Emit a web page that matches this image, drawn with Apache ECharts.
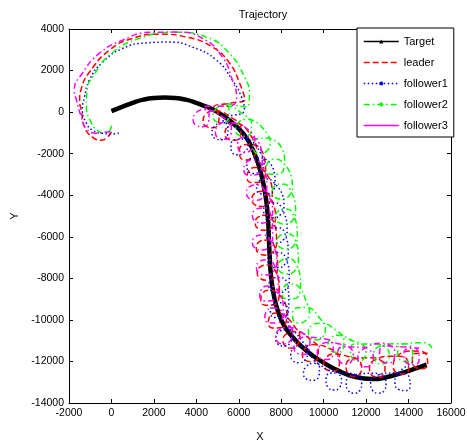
<!DOCTYPE html>
<html>
<head>
<meta charset="utf-8">
<script src="https://cdn.jsdelivr.net/npm/echarts@6/dist/echarts.min.js"></script>
<style>html,body{margin:0;padding:0;background:#fff;}#c{width:467px;height:441px;}</style>
</head>
<body>
<div id="c"></div>
<script>
// ---- data (data units) ----
const xTicks = [-2000, 0, 2000, 4000, 6000, 8000, 10000, 12000, 14000, 16000];
const yTicks = [-14000, -12000, -10000, -8000, -6000, -4000, -2000, 0, 2000, 4000];
const seriesNames = ['Target', 'leader', 'follower1', 'follower2', 'follower3'];

const target = [[0,50],[500,250],[1000,450],[1500,600],[2000,680],[2500,700],[3000,680],[3500,600],[4000,450],[4500,250],[5000,0],[5500,-350],[6000,-800],[6400,-1300],[6700,-1900],[6950,-2600],[7150,-3400],[7300,-4300],[7380,-5200],[7420,-6100],[7460,-7000],[7520,-7900],[7650,-8800],[7850,-9600],[8150,-10300],[8600,-10900],[9200,-11500],[9900,-12000],[10700,-12450],[11500,-12750],[12300,-12850],[13000,-12750],[13700,-12550],[14300,-12350],[14850,-12150]];

const leader = [[0,-950],[-190,-1200],[-470,-1350],[-900,-1200],[-1270,-720],[-1420,100],[-1500,500],[-1400,1200],[-1040,1920],[-100,2980],[1000,3550],[2260,3750],[3540,3610],[4760,3130],[5570,2350],[6040,1390],[6280,580],[5700,450],
[4820,220],[5070,-120],[5050,-510],[4790,-750],[4480,-700],[4320,-430],[4440,-100],[4790,70],
[5850,-390],[6100,-730],[6080,-1120],[5820,-1360],[5510,-1310],[5350,-1040],[5470,-710],[5820,-540],
[6740,-1420],[6840,-1830],[6660,-2180],[6330,-2300],[6060,-2140],[6030,-1820],[6270,-1570],[6660,-1550],
[7260,-2680],[7230,-3100],[6950,-3380],[6600,-3390],[6390,-3150],[6460,-2840],[6760,-2670],[7140,-2780],
[7580,-3950],[7440,-4350],[7100,-4540],[6760,-4460],[6620,-4180],[6760,-3900],[7100,-3810],[7440,-4010],
[7730,-5100],[7590,-5500],[7250,-5690],[6910,-5610],[6770,-5330],[6910,-5050],[7250,-4960],[7590,-5160],
[7780,-6300],[7640,-6700],[7300,-6890],[6960,-6810],[6820,-6530],[6960,-6250],[7300,-6160],[7640,-6360],
[7830,-7500],[7690,-7900],[7350,-8090],[7010,-8010],[6870,-7730],[7010,-7450],[7350,-7360],[7690,-7560],
[7910,-8580],[7880,-9000],[7600,-9280],[7250,-9290],[7040,-9050],[7110,-8740],[7410,-8570],[7790,-8680],
[8260,-9680],[8230,-10100],[7950,-10380],[7600,-10390],[7390,-10150],[7460,-9840],[7760,-9670],[8140,-9780],
[8700,-10420],[8880,-10800],[8780,-11180],[8480,-11360],[8180,-11260],[8080,-10960],[8260,-10660],[8640,-10560],
[9500,-11040],[9750,-11380],[9730,-11770],[9470,-12010],[9160,-11960],[9000,-11690],[9120,-11360],[9470,-11190],
[10500,-11490],[10750,-11830],[10730,-12220],[10470,-12460],[10160,-12410],[10000,-12140],[10120,-11810],[10470,-11640],
[11200,-11770],[11600,-11910],[11790,-12250],[11710,-12590],[11430,-12730],[11150,-12590],[11060,-12250],[11260,-11910],
[12300,-11820],[12700,-11960],[12890,-12300],[12810,-12640],[12530,-12780],[12250,-12640],[12160,-12300],[12360,-11960],
[13260,-11750],[13680,-11760],[13970,-12030],[14000,-12380],[13780,-12600],[13460,-12550],[13280,-12260],[13360,-11870],
[14160,-11500],[14580,-11510],[14870,-11780],[14900,-12130],[14680,-12350],[14360,-12300],[14180,-12010],[14260,-11620],
[14900,-11600]];

const follower1 = [[350,-1000],[50,-1050],[-420,-1020],[-900,-870],[-1180,-530],[-1370,100],[-1270,720],[-1040,1540],[-420,2400],[520,3060],[1650,3330],[2730,3370],[3820,3130],[4950,2500],[5700,1540],[6130,720],[6270,100],
[5240,-360],[5490,-700],[5470,-1090],[5210,-1330],[4900,-1280],[4740,-1010],[4860,-680],[5210,-510],
[6340,-1170],[6440,-1580],[6260,-1930],[5930,-2050],[5660,-1890],[5630,-1570],[5870,-1320],[6260,-1300],
[7090,-2070],[7190,-2480],[7010,-2830],[6680,-2950],[6410,-2790],[6380,-2470],[6620,-2220],[7010,-2200],
[7710,-3230],[7680,-3650],[7400,-3930],[7050,-3940],[6840,-3700],[6910,-3390],[7210,-3220],[7590,-3330],
[8130,-4500],[7990,-4900],[7650,-5090],[7310,-5010],[7170,-4730],[7310,-4450],[7650,-4360],[7990,-4560],
[8280,-5700],[8140,-6100],[7800,-6290],[7460,-6210],[7320,-5930],[7460,-5650],[7800,-5560],[8140,-5760],
[8330,-6900],[8190,-7300],[7850,-7490],[7510,-7410],[7370,-7130],[7510,-6850],[7850,-6760],[8190,-6960],
[8380,-8100],[8240,-8500],[7900,-8690],[7560,-8610],[7420,-8330],[7560,-8050],[7900,-7960],[8240,-8160],
[8360,-9180],[8330,-9600],[8050,-9880],[7700,-9890],[7490,-9650],[7560,-9340],[7860,-9170],[8240,-9280],
[8360,-10320],[8540,-10700],[8440,-11080],[8140,-11260],[7840,-11160],[7740,-10860],[7920,-10560],[8300,-10460],
[9070,-11120],[9250,-11500],[9150,-11880],[8850,-12060],[8550,-11960],[8450,-11660],[8630,-11360],[9010,-11260],
[9550,-11940],[9800,-12280],[9780,-12670],[9520,-12910],[9210,-12860],[9050,-12590],[9170,-12260],[9520,-12090],
[10250,-12420],[10650,-12560],[10840,-12900],[10760,-13240],[10480,-13380],[10200,-13240],[10110,-12900],[10310,-12560],
[11200,-12570],[11600,-12710],[11790,-13050],[11710,-13390],[11430,-13530],[11150,-13390],[11060,-13050],[11260,-12710],
[12350,-12570],[12750,-12710],[12940,-13050],[12860,-13390],[12580,-13530],[12300,-13390],[12210,-13050],[12410,-12710],
[13340,-12550],[13760,-12560],[14050,-12830],[14080,-13180],[13860,-13400],[13540,-13350],[13360,-13060],[13440,-12670],
[14300,-12000]];

const follower2 = [[0,-650],[-100,-900],[-350,-1000],[-700,-850],[-940,-530],[-1180,240],[-1130,1200],[-890,1680],[-100,2740],[1320,3550],[3060,3840],[4480,3610],[5560,2830],[6270,1690],[6500,900],[6360,240],
[5290,460],[5540,120],[5520,-270],[5260,-510],[4950,-460],[4790,-190],[4910,140],[5260,310],
[6350,-190],[6600,-530],[6580,-920],[6320,-1160],[6010,-1110],[5850,-840],[5970,-510],[6320,-340],
[7390,-1120],[7490,-1530],[7310,-1880],[6980,-2000],[6710,-1840],[6680,-1520],[6920,-1270],[7310,-1250],
[8160,-2280],[8130,-2700],[7850,-2980],[7500,-2990],[7290,-2750],[7360,-2440],[7660,-2270],[8040,-2380],
[8530,-3600],[8390,-4000],[8050,-4190],[7710,-4110],[7570,-3830],[7710,-3550],[8050,-3460],[8390,-3660],
[8680,-4800],[8540,-5200],[8200,-5390],[7860,-5310],[7720,-5030],[7860,-4750],[8200,-4660],[8540,-4860],
[8760,-6000],[8620,-6400],[8280,-6590],[7940,-6510],[7800,-6230],[7940,-5950],[8280,-5860],[8620,-6060],
[8810,-7200],[8670,-7600],[8330,-7790],[7990,-7710],[7850,-7430],[7990,-7150],[8330,-7060],[8670,-7260],
[8910,-8280],[8880,-8700],[8600,-8980],[8250,-8990],[8040,-8750],[8110,-8440],[8410,-8270],[8790,-8380],
[9240,-9270],[9340,-9680],[9160,-10030],[8830,-10150],[8560,-9990],[8530,-9670],[8770,-9420],[9160,-9400],
[9900,-10020],[10080,-10400],[9980,-10780],[9680,-10960],[9380,-10860],[9280,-10560],[9460,-10260],[9840,-10160],
[10700,-10590],[10950,-10930],[10930,-11320],[10670,-11560],[10360,-11510],[10200,-11240],[10320,-10910],[10670,-10740],
[11400,-11020],[11800,-11160],[11990,-11500],[11910,-11840],[11630,-11980],[11350,-11840],[11260,-11500],[11460,-11160],
[12500,-11170],[12900,-11310],[13090,-11650],[13010,-11990],[12730,-12130],[12450,-11990],[12360,-11650],[12560,-11310],
[13460,-11150],[13880,-11160],[14170,-11430],[14200,-11780],[13980,-12000],[13660,-11950],[13480,-11660],[13560,-11270],
[14800,-11100],[15100,-11350]];

const follower3 = [[-50,-950],[-420,-980],[-710,-1020],[-1180,-800],[-1420,-230],[-1650,580],[-1750,1060],[-1370,1870],[-570,2830],[520,3460],[1800,3840],[3060,3850],[4290,3550],[5230,2650],[5700,1540],[5900,720],[5600,300],
[4350,270],[4600,-70],[4580,-460],[4320,-700],[4010,-650],[3850,-380],[3970,-50],[4320,120],
[5400,-340],[5650,-680],[5630,-1070],[5370,-1310],[5060,-1260],[4900,-990],[5020,-660],[5370,-490],
[6660,-1060],[6760,-1470],[6580,-1820],[6250,-1940],[5980,-1780],[5950,-1460],[6190,-1210],[6580,-1190],
[7110,-2320],[7080,-2740],[6800,-3020],[6450,-3030],[6240,-2790],[6310,-2480],[6610,-2310],[6990,-2420],
[7320,-3650],[7180,-4050],[6840,-4240],[6500,-4160],[6360,-3880],[6500,-3600],[6840,-3510],[7180,-3710],
[7600,-4750],[7460,-5150],[7120,-5340],[6780,-5260],[6640,-4980],[6780,-4700],[7120,-4610],[7460,-4810],
[7600,-6050],[7460,-6450],[7120,-6640],[6780,-6560],[6640,-6280],[6780,-6000],[7120,-5910],[7460,-6110],
[7790,-7250],[7650,-7650],[7310,-7840],[6970,-7760],[6830,-7480],[6970,-7200],[7310,-7110],[7650,-7310],
[7860,-8380],[7830,-8800],[7550,-9080],[7200,-9090],[6990,-8850],[7060,-8540],[7360,-8370],[7740,-8480],
[8100,-9440],[8070,-9860],[7790,-10140],[7440,-10150],[7230,-9910],[7300,-9600],[7600,-9430],[7980,-9540],
[8360,-10220],[8540,-10600],[8440,-10980],[8140,-11160],[7840,-11060],[7740,-10760],[7920,-10460],[8300,-10360],
[9100,-10690],[9350,-11030],[9330,-11420],[9070,-11660],[8760,-11610],[8600,-11340],[8720,-11010],[9070,-10840],
[10200,-10940],[10450,-11280],[10430,-11670],[10170,-11910],[9860,-11860],[9700,-11590],[9820,-11260],[10170,-11090],
[10800,-11170],[11200,-11310],[11390,-11650],[11310,-11990],[11030,-12130],[10750,-11990],[10660,-11650],[10860,-11310],
[11750,-11300],[12150,-11440],[12340,-11780],[12260,-12120],[11980,-12260],[11700,-12120],[11610,-11780],[11810,-11440],
[12770,-11120],[13170,-11260],[13360,-11600],[13280,-11940],[13000,-12080],[12720,-11940],[12630,-11600],[12830,-11260],
[13760,-11300],[14180,-11310],[14470,-11580],[14500,-11930],[14280,-12150],[13960,-12100],[13780,-11810],[13860,-11420],
[14500,-11350]];

const colors = ['#000000', '#ff0000', '#0000ff', '#00ff00', '#ff00ff'];

const font = 'Liberation Sans, Arial, sans-serif';
const chart = echarts.init(document.getElementById('c'), null, {renderer: 'canvas'});

const axisCommon = {
  type: 'value',
  axisLine: {show: true, onZero: false, lineStyle: {color: '#000', width: 1}},
  axisTick: {show: true, inside: true, length: 4, lineStyle: {color: '#000'}},
  splitLine: {show: false}
};
const plain = function (v) { return String(v); };

function mk(i, data, dash, extra) {
  return Object.assign({
    name: seriesNames[i], type: 'line', data: data,
    xAxisIndex: 0, yAxisIndex: 0,
    symbol: 'circle', showSymbol: false, smooth: 0.5, animation: false,
    lineStyle: {color: colors[i], width: 1.5, type: dash},
    itemStyle: {color: colors[i]}
  }, extra || {});
}

chart.setOption({
  backgroundColor: '#fff',
  animation: false,
  title: {text: 'Trajectory', left: 258, top: 4, textAlign: 'center',
          textStyle: {fontFamily: font, fontSize: 11, fontWeight: 'normal', color: '#000'}},
  grid: {left: 69, right: 16, top: 29, bottom: 38, show: false, containLabel: false, outerBoundsMode: 'none'},
  legend: {
    orient: 'vertical', left: 357, top: 28,
    itemWidth: 35, itemHeight: 5, itemGap: 10,
    padding: [8, 6, 6, 6],
    borderColor: '#000', borderWidth: 1, backgroundColor: '#fff',
    textStyle: {fontFamily: font, fontSize: 11, color: '#000'},
    data: [
      {name: 'Target', lineStyle: {width: 1.5}},
      {name: 'leader', lineStyle: {width: 1.5}, itemStyle: {opacity: 0}},
      {name: 'follower1', lineStyle: {width: 1.5}},
      {name: 'follower2', lineStyle: {width: 1.5}},
      {name: 'follower3', lineStyle: {width: 1.5, type: 'solid'}, itemStyle: {opacity: 0}}
    ]
  },
  xAxis: [
    Object.assign({}, axisCommon, {position: 'bottom', min: xTicks[0], max: xTicks[xTicks.length-1], interval: 2000,
      name: 'X', nameLocation: 'middle', nameGap: 28,
      nameTextStyle: {fontFamily: font, fontSize: 11, color: '#000'},
      axisLabel: {show: true, margin: 5, formatter: plain, fontFamily: font, fontSize: 10.5, color: '#000'}}),
    Object.assign({}, axisCommon, {position: 'top', min: xTicks[0], max: xTicks[xTicks.length-1], interval: 2000,
      axisLabel: {show: false}})
  ],
  yAxis: [
    Object.assign({}, axisCommon, {position: 'left', min: yTicks[0], max: yTicks[yTicks.length-1], interval: 2000,
      name: 'Y', nameLocation: 'middle', nameGap: 39, nameRotate: 90,
      nameTextStyle: {fontFamily: font, fontSize: 11, color: '#000'},
      axisLabel: {show: true, margin: 5, formatter: plain, fontFamily: font, fontSize: 10.5, color: '#000'}}),
    Object.assign({}, axisCommon, {position: 'right', min: yTicks[0], max: yTicks[yTicks.length-1], interval: 2000,
      axisLabel: {show: false}})
  ],
  series: [
    mk(0, target, 'solid', {symbol: 'triangle', smooth: true, lineStyle: {color: '#000', width: 4.5, type: 'solid'}, z: 2}),
    mk(1, leader, [6, 3], {z: 3}),
    mk(2, follower1, [1.5, 2.5], {z: 3}),
    mk(3, follower2, [6, 3, 1.5, 3], {z: 3}),
    mk(4, follower3, [6, 3, 1.5, 3], {z: 3})
  ]
});
</script>
</body>
</html>
